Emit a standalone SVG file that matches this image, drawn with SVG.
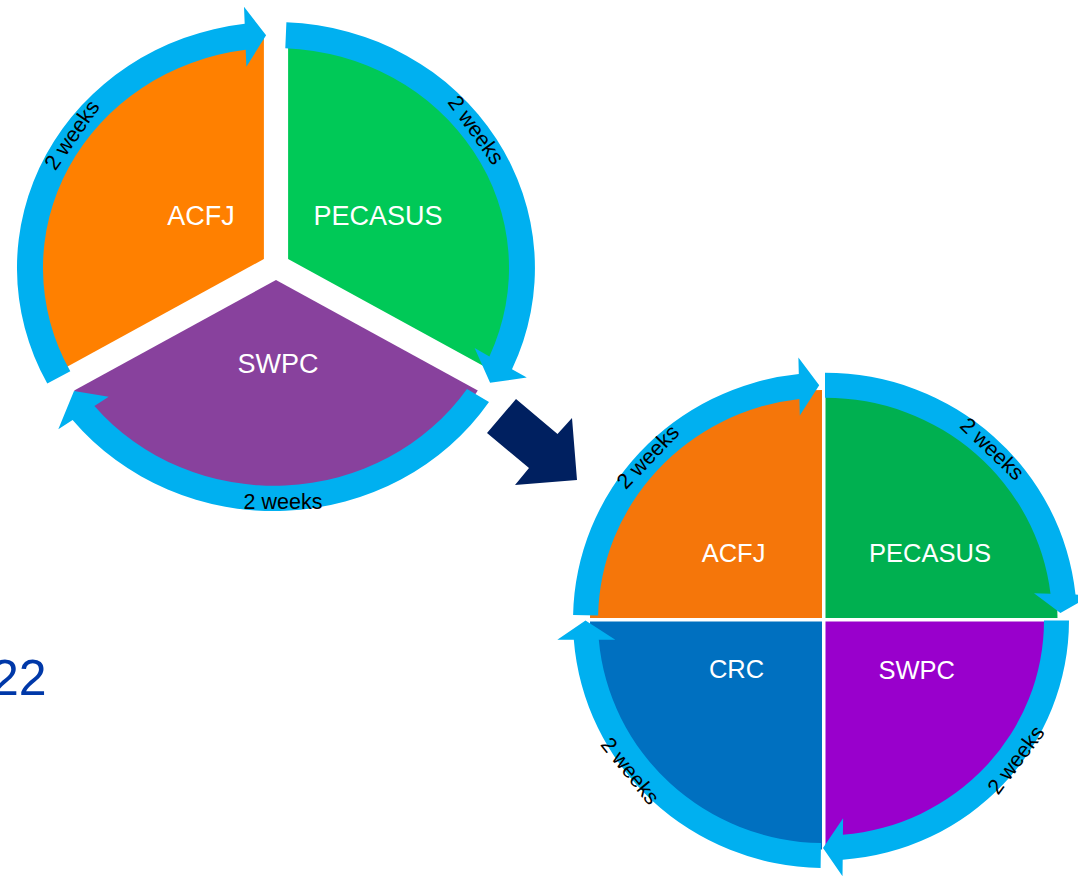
<svg xmlns="http://www.w3.org/2000/svg" width="1078" height="878" viewBox="0 0 1078 878">
<style>
.ring{fill:#00B0F0}
.lbl{font-family:"Liberation Sans",Arial,sans-serif;fill:#FFFFFF;text-anchor:middle}
.wk{font-family:"Liberation Sans",Arial,sans-serif;fill:#000000;text-anchor:middle;font-size:21.5px}
</style>
<rect width="1078" height="878" fill="#FFFFFF"/>
<text x="-9" y="695" font-family="Liberation Sans, Arial, sans-serif" font-size="50" fill="#0038A8">22</text>

<!-- left cycle nodes -->
<g id="left-acfj">
<path d="M263.9 259 L62.1 369.5 A233 221 0 0 1 263.9 38 Z" fill="#FF8000"/>
<text class="lbl" x="201" y="225" font-size="27">ACFJ</text>
</g>
<g id="left-pecasus">
<path d="M288.1 259 L288.1 38 A233 221 0 0 1 489.9 369.5 Z" fill="#00C957"/>
<text class="lbl" x="378" y="225" font-size="27">PECASUS</text>
</g>
<g id="left-swpc">
<path d="M276 280 L477.8 390.5 A233 221 0 0 1 74.2 390.5 Z" fill="#88419D"/>
<text class="lbl" x="278" y="373" font-size="27">SWPC</text>
</g>

<!-- right cycle nodes -->
<g id="right-acfj">
<path d="M822 618 L590 618 A232 228 0 0 1 822 390 Z" fill="#F5760A"/>
<text class="lbl" x="733.5" y="562" font-size="25.5">ACFJ</text>
</g>
<g id="right-pecasus">
<path d="M825.5 618 L825.5 390 A232 228 0 0 1 1057.5 618 Z" fill="#00B050"/>
<text class="lbl" x="930" y="562" font-size="25.5">PECASUS</text>
</g>
<g id="right-crc">
<path d="M822 621.5 L822 849.5 A232 228 0 0 1 590 621.5 Z" fill="#0070C0"/>
<text class="lbl" x="736.5" y="678" font-size="25.5">CRC</text>
</g>
<g id="right-swpc">
<path d="M825.5 621.5 L1047 621.5 A221.5 224 0 0 1 825.5 845.5 Z" fill="#9900CC"/>
<text class="lbl" x="916.7" y="679" font-size="25.5">SWPC</text>
</g>

<g id="connectors">
<!-- left cycle arrows -->
<path class="ring" d="M47.3 383.5 A259 246 0 0 1 244.7 23.8 L244 6.8 L266.1 35.2 L246.4 66.8 L245.7 49.8 A233 220 0 0 0 70.3 371.3 Z"/>
<path class="ring" d="M286.4 22.2 A259 246 0 0 1 512 369.2 L526.8 377.6 L490.1 382.7 L474.6 348 L489.4 356.4 A233 220 0 0 0 285.3 48.2 Z"/>
<path class="ring" d="M489 402 A259 246 0 0 1 72.6 420 L58.3 429.2 L74 391 L108.7 396.8 L94.4 406 A233 220 0 0 0 467 389 Z"/>
<!-- right cycle arrows -->
<path class="ring" d="M573.1 615 A252 247.7 0 0 1 798.8 374 L798.4 357.5 L819.2 385.2 L799.8 415.5 L799.4 399 A227 222.7 0 0 0 598.1 615.5 Z"/>
<path class="ring" d="M825 372.7 A252 247.7 0 0 1 1075.5 594.6 L1092 595.1 L1060.4 612.9 L1034 593.3 L1050.5 593.8 A227 222.7 0 0 0 825 397.7 Z"/>
<path class="ring" d="M1069 620.4 A244 240 0 0 1 842.7 859.7 L842.5 876.2 L823 847.9 L843.1 818.2 L842.9 834.7 A219 215 0 0 0 1044 620.4 Z"/>
<path class="ring" d="M820.6 868.1 A252 247.7 0 0 1 573.8 639.7 L557.3 639.7 L585.5 620.4 L615.3 639.7 L598.8 639.7 A227 222.7 0 0 0 821 843.1 Z"/>
<!-- transition arrow -->
<polygon points="516,399 557.5,434 572,418 577,480 515,485 529,468 487,433" fill="#002060"/>
<!-- duration labels -->
<text class="wk" transform="translate(72,135) rotate(-55)" dy="0.33em">2 weeks</text>
<text class="wk" transform="translate(476,130) rotate(54)" dy="0.33em">2 weeks</text>
<text class="wk" x="283" y="509.3">2 weeks</text>
<text class="wk" transform="translate(648,457) rotate(-46)" dy="0.33em">2 weeks</text>
<text class="wk" transform="translate(992,449) rotate(44)" dy="0.33em">2 weeks</text>
<text class="wk" transform="translate(1016,760) rotate(-53)" dy="0.33em">2 weeks</text>
<text class="wk" transform="translate(630,771) rotate(51)" dy="0.33em">2 weeks</text>
</g>
</svg>
